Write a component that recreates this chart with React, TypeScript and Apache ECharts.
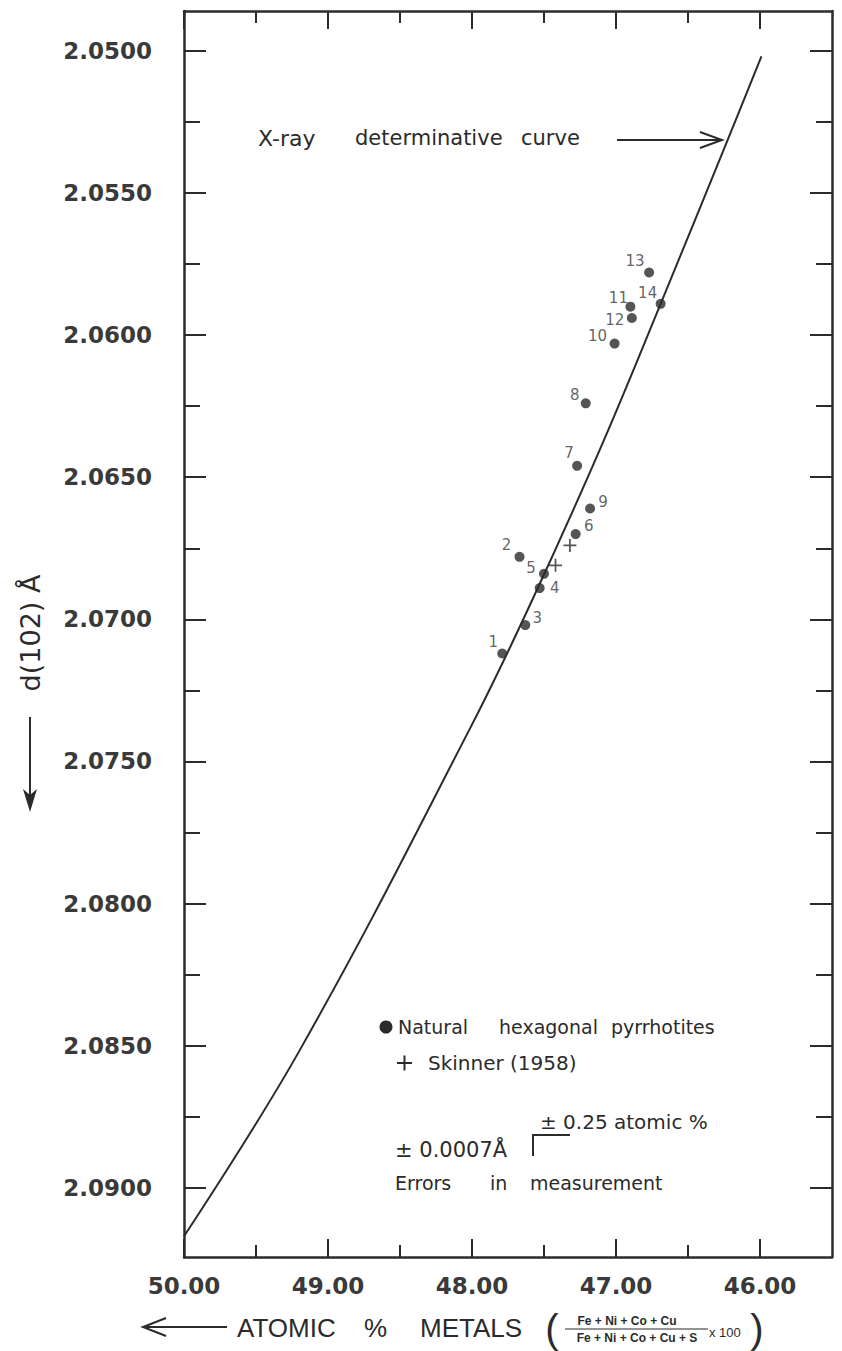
import React, { useEffect, useRef } from "react";
import * as echarts from "echarts";

// ---- data ----
const pointIds = ["1", "2", "3", "4", "5", "6", "7", "8", "9", "10", "11", "12", "13", "14"];
const pointX = [47.79, 47.67, 47.63, 47.53, 47.50, 47.28, 47.27, 47.21, 47.18, 47.01, 46.90, 46.89, 46.77, 46.69];
const pointY = [2.0712, 2.0678, 2.0702, 2.0689, 2.0684, 2.0670, 2.0646, 2.0624, 2.0661, 2.0603, 2.0590, 2.0594, 2.0578, 2.0589];

const skinnerX = [47.32, 47.42];
const skinnerY = [2.0674, 2.0681];

const curveX = [50.0, 49.19, 48.01, 47.58, 47.11, 46.69, 46.23, 45.99];
const curveY = [2.0917, 2.0851, 2.0738, 2.0693, 2.064, 2.0589, 2.0532, 2.0502];

const xMajor = [50, 49, 48, 47, 46];
const xMinor = [49.5, 48.5, 47.5, 46.5];
const yMajor = [2.05, 2.055, 2.06, 2.065, 2.07, 2.075, 2.08, 2.085, 2.09];
const yMinor = [2.0525, 2.0575, 2.0625, 2.0675, 2.0725, 2.0775, 2.0825, 2.0875];

const xRange = [45.5, 50.0];
const yRange = [2.0486, 2.09243];

// label offsets (style, px) relative to each point
const labelOffsets: [number, number][] = [
  [-9, -11], [-13, -12], [12, -7], [15, 0], [-13, -6], [13, -8], [-8, -13],
  [-11, -8], [13, -6], [-17, -8], [-12, -9], [-17, 2], [-14, -12], [-13, -11],
];

const INK = "#2b2b2b";
const LABEL_INK = "#3a3a3a";

export default function App() {
  const ref = useRef<HTMLDivElement>(null);

  useEffect(() => {
    if (!ref.current) return;
    const chart = echarts.init(ref.current, undefined, { renderer: "svg" });

    const baseX = {
      type: "value" as const,
      min: xRange[0],
      max: xRange[1],
      inverse: true,
      splitLine: { show: false },
    };
    const baseY = {
      type: "value" as const,
      min: yRange[0],
      max: yRange[1],
      inverse: true,
      splitLine: { show: false },
    };
    const lineStyle = { color: INK, width: 2.5 };
    const tickStyle = { color: INK, width: 2 };
    const txt = (x: number, y: number, text: string, size: number, extra: any = {}) => ({
      type: "text",
      x,
      y,
      style: { text, fontFamily: "DejaVu Sans", fontSize: size, fill: INK, align: "left", verticalAlign: "middle", ...extra },
    });

    const option: any = {
      animation: false,
      backgroundColor: "#ffffff",
      grid: { left: 184, top: 11, width: 648, height: 1246, containLabel: false },
      xAxis: [
        {
          ...baseX,
          position: "bottom",
          axisLine: { show: true, lineStyle },
          axisTick: { show: true, inside: true, length: 18, lineStyle: tickStyle, customValues: xMajor },
          axisLabel: {
            show: true,
            customValues: xMajor,
            formatter: (v: number) => v.toFixed(2),
            margin: 17,
            fontFamily: "DejaVu Sans",
            fontWeight: "bold",
            fontSize: 23,
            color: LABEL_INK,
          },
        },
        {
          ...baseX,
          position: "bottom",
          axisLine: { show: false },
          axisTick: { show: true, inside: true, length: 12, lineStyle: tickStyle, customValues: xMinor },
          axisLabel: { show: false },
        },
        {
          ...baseX,
          position: "top",
          axisLine: { show: true, lineStyle },
          axisTick: { show: true, inside: true, length: 18, lineStyle: tickStyle, customValues: xMajor },
          axisLabel: { show: false },
        },
        {
          ...baseX,
          position: "top",
          axisLine: { show: false },
          axisTick: { show: true, inside: true, length: 12, lineStyle: tickStyle, customValues: xMinor },
          axisLabel: { show: false },
        },
      ],
      yAxis: [
        {
          ...baseY,
          position: "left",
          axisLine: { show: true, lineStyle },
          axisTick: { show: true, inside: true, length: 22, lineStyle: tickStyle, customValues: yMajor },
          axisLabel: {
            show: true,
            customValues: yMajor,
            formatter: (v: number) => v.toFixed(4),
            margin: 32,
            fontFamily: "DejaVu Sans",
            fontWeight: "bold",
            fontSize: 23,
            color: LABEL_INK,
          },
        },
        {
          ...baseY,
          position: "left",
          axisLine: { show: false },
          axisTick: { show: true, inside: true, length: 16, lineStyle: tickStyle, customValues: yMinor },
          axisLabel: { show: false },
        },
        {
          ...baseY,
          position: "right",
          axisLine: { show: true, lineStyle },
          axisTick: { show: true, inside: true, length: 22, lineStyle: tickStyle, customValues: yMajor },
          axisLabel: { show: false },
        },
        {
          ...baseY,
          position: "right",
          axisLine: { show: false },
          axisTick: { show: true, inside: true, length: 16, lineStyle: tickStyle, customValues: yMinor },
          axisLabel: { show: false },
        },
      ],
      series: [
        {
          name: "X-ray determinative curve",
          type: "line",
          xAxisIndex: 0,
          yAxisIndex: 0,
          data: curveX.map((x, i) => [x, curveY[i]]),
          smooth: 0.4,
          showSymbol: false,
          symbol: "none",
          lineStyle: { color: INK, width: 2 },
          z: 2,
        },
        {
          name: "Natural hexagonal pyrrhotites",
          type: "scatter",
          xAxisIndex: 0,
          yAxisIndex: 0,
          symbol: "circle",
          symbolSize: 10,
          itemStyle: { color: INK },
          data: pointX.map((x, i) => ({
            value: [x, pointY[i]],
            label: {
              show: true,
              position: "inside",
              offset: labelOffsets[i],
              formatter: pointIds[i],
              fontFamily: "DejaVu Sans",
              fontSize: 15,
              color: LABEL_INK,
            },
          })),
          z: 3,
        },
        {
          name: "Skinner (1958)",
          type: "scatter",
          xAxisIndex: 0,
          yAxisIndex: 0,
          symbol: "path://M5.2,0h1.6v5.2h5.2v1.6h-5.2v5.2h-1.6v-5.2h-5.2v-1.6h5.2z",
          symbolSize: 13,
          itemStyle: { color: INK },
          data: skinnerX.map((x, i) => [x, skinnerY[i]]),
          z: 3,
        },
      ],
      graphic: [
        // X-ray curve annotation
        txt(258, 138, "X-ray", 22),
        txt(355, 138, "determinative", 21),
        txt(521, 138, "curve", 21),
        { type: "line", shape: { x1: 617, y1: 140, x2: 721, y2: 140 }, style: { stroke: INK, lineWidth: 2 } },
        { type: "polyline", shape: { points: [[700, 132], [722, 140], [700, 148]] }, style: { stroke: INK, lineWidth: 2, fill: null } },

        // y axis name
        { type: "text", x: 30, y: 633, rotation: Math.PI / 2, style: { text: "d(102) Å", fontFamily: "DejaVu Sans", fontSize: 27, fill: INK, align: "center", verticalAlign: "middle" } },
        { type: "line", shape: { x1: 30, y1: 717, x2: 30, y2: 805 }, style: { stroke: INK, lineWidth: 2 } },
        { type: "polygon", shape: { points: [[23, 789], [30, 812], [37, 789], [30, 795]] }, style: { fill: INK } },

        // x axis title
        { type: "line", shape: { x1: 145, y1: 1327, x2: 227, y2: 1327 }, style: { stroke: INK, lineWidth: 2 } },
        { type: "polyline", shape: { points: [[166, 1318], [143, 1327], [166, 1336]] }, style: { stroke: INK, lineWidth: 2, fill: null } },
        txt(237, 1328, "ATOMIC", 26, { fontFamily: "Liberation Sans" }),
        txt(364, 1328, "%", 26, { fontFamily: "Liberation Sans" }),
        txt(420, 1328, "METALS", 26, { fontFamily: "Liberation Sans" }),
        txt(552, 1329, "(", 40, { fontFamily: "Liberation Sans", align: "center" }),
        txt(627, 1321, "Fe + Ni + Co + Cu", 12, { fontFamily: "Liberation Sans", fontWeight: "bold", align: "center" }),
        { type: "line", shape: { x1: 565, y1: 1329, x2: 708, y2: 1329 }, style: { stroke: INK, lineWidth: 1.2 } },
        txt(637, 1338, "Fe + Ni + Co + Cu + S", 12, { fontFamily: "Liberation Sans", fontWeight: "bold", align: "center" }),
        txt(709, 1332, "x 100", 13, { fontFamily: "Liberation Sans" }),
        txt(757, 1329, ")", 40, { fontFamily: "Liberation Sans", align: "center" }),

        // legend / notes
        { type: "circle", shape: { cx: 386, cy: 1027, r: 6.5 }, style: { fill: INK } },
        txt(398, 1027, "Natural", 19),
        txt(499, 1027, "hexagonal", 19),
        txt(611, 1027, "pyrrhotites", 19),
        { type: "line", shape: { x1: 397, y1: 1063, x2: 412, y2: 1063 }, style: { stroke: INK, lineWidth: 2 } },
        { type: "line", shape: { x1: 404.5, y1: 1055.5, x2: 404.5, y2: 1070.5 }, style: { stroke: INK, lineWidth: 2 } },
        txt(428, 1063, "Skinner (1958)", 20),
        txt(540, 1122, "± 0.25 atomic %", 20),
        txt(395, 1150, "± 0.0007Å", 21),
        { type: "polyline", shape: { points: [[533, 1156], [533, 1135], [570, 1135]] }, style: { stroke: INK, lineWidth: 2, fill: null } },
        txt(395, 1183, "Errors", 19),
        txt(490, 1183, "in", 19),
        txt(530, 1183, "measurement", 19),
      ],
    };

    chart.setOption(option);
    return () => chart.dispose();
  }, []);

  return (
    <div
      ref={ref}
      style={{ position: "absolute", left: 0, top: 0, width: 842, height: 1351, background: "#fff" }}
    />
  );
}
